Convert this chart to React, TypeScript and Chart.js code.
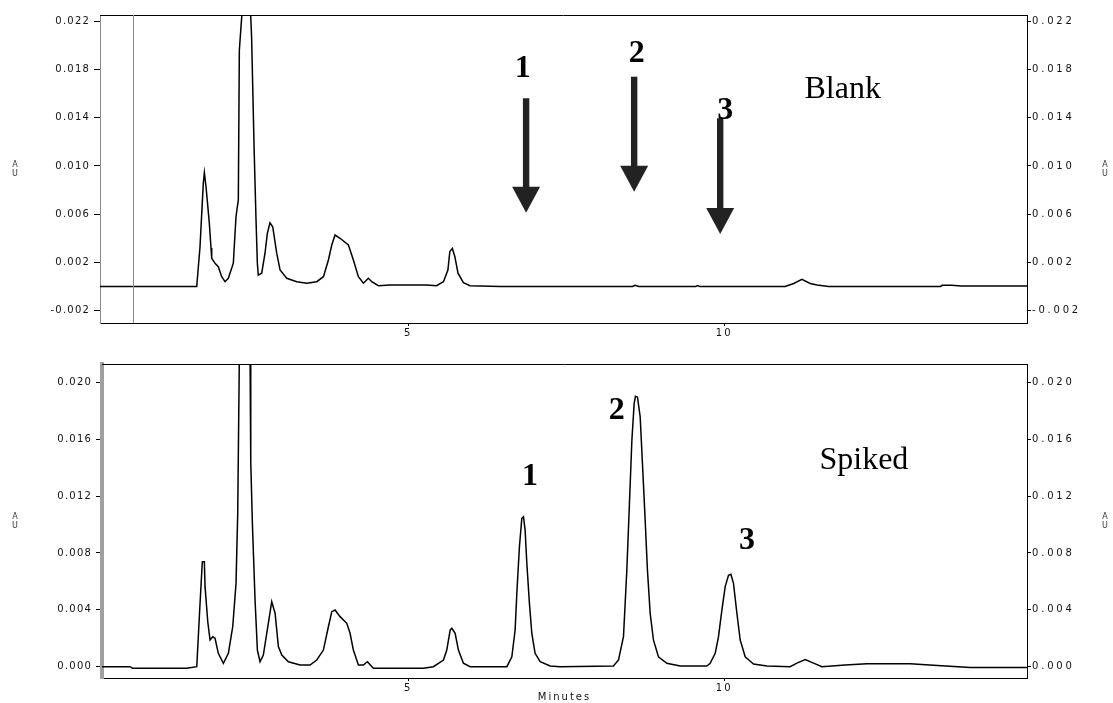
import React, { useEffect, useRef } from 'react';
import { Chart, registerables } from 'chart.js';

Chart.register(...registerables);

// ---------- Data (minutes, AU) ----------
const blankTimes = [
  0.127, 1.657, 1.709, 1.761, 1.778, 1.804, 1.856, 1.883, 1.894, 1.946, 1.998, 2.052, 2.104, 2.157,
  2.236, 2.278, 2.315, 2.331, 2.369, 2.42, 2.49, 2.525, 2.566, 2.595, 2.616, 2.631, 2.685, 2.737,
  2.774, 2.816, 2.859, 2.922, 2.975, 3.081, 3.239, 3.397, 3.555, 3.661, 3.74, 3.793, 3.845, 3.924,
  4.056, 4.135, 4.214, 4.293, 4.372, 4.426, 4.53, 4.715, 5.29, 5.45, 5.56, 5.63, 5.66, 5.7, 5.74,
  5.79, 5.875, 5.98, 6.46, 8.55, 8.59, 8.65, 9.55, 9.58, 9.61, 10.965, 11.1, 11.23, 11.36, 11.47,
  11.65, 13.42, 13.45, 13.6, 13.75, 13.92, 14.79,
];
const blankValues = [
  0, 0, 0.0033, 0.00856, 0.00944, 0.00828, 0.00527, 0.0032, 0.00234, 0.00193, 0.00164, 0.00081, 0.0004, 0.00068,
  0.00193, 0.00579, 0.00718, 0.0196, 0.0224, 0.032, 0.025, 0.0207, 0.01119, 0.00552, 0.00193, 0.00095, 0.0011, 0.00276,
  0.00441, 0.00529, 0.00496, 0.00276, 0.00137, 0.00068, 0.0004, 0.00027, 0.0004, 0.00081, 0.0022, 0.00344, 0.00427, 0.004,
  0.00344, 0.0022, 0.00081, 0.00027, 0.00068, 0.0004, 0.00007, 0.00012, 0.00012, 0.00007, 0.0004, 0.00137, 0.00289, 0.00317, 0.00247,
  0.0011, 0.00032, 0.00007, 0, 0, 0.0001, 0, 0, 0.00008, 0, 0, 0.00025, 0.0006, 0.00025, 0.00012,
  0, 0, 0.0001, 0.0001, 0.00005, 0.00005, 0.00005,
];

const spikedTimes = [
  0.158, 0.6, 0.64, 1.498, 1.657, 1.709, 1.745, 1.777, 1.788, 1.831, 1.867, 1.91, 1.946, 1.998, 2.078,
  2.157, 2.226, 2.278, 2.305, 2.331, 2.42, 2.5, 2.511, 2.536, 2.579, 2.616, 2.658, 2.71, 2.764, 2.843,
  2.896, 2.948, 3.002, 3.106, 3.291, 3.449, 3.555, 3.66, 3.739, 3.793, 3.845, 3.924, 4.03, 4.082, 4.134,
  4.214, 4.293, 4.356, 4.451, 4.98, 5.242, 5.4, 5.559, 5.612, 5.665, 5.691, 5.744, 5.796, 5.875, 5.981,
  6.562, 6.641, 6.693, 6.72, 6.761, 6.799, 6.825, 6.851, 6.878, 6.919, 6.957, 7.009, 7.089, 7.247, 7.405,
  8.248, 8.328, 8.407, 8.46, 8.497, 8.54, 8.576, 8.597, 8.628, 8.671, 8.707, 8.75, 8.786, 8.829, 8.881,
  8.96, 9.093, 9.304, 9.726, 9.778, 9.858, 9.91, 9.964, 10.016, 10.068, 10.106, 10.147, 10.201, 10.253,
  10.332, 10.464, 10.676, 11.044, 11.15, 11.282, 11.413, 11.546, 11.915, 12.258, 12.943, 13.312, 13.892, 14.794,
];
const spikedValues = [
  0, 0, -0.00011, -0.00011, 0, 0.00446, 0.00738, 0.00738, 0.00563, 0.00316, 0.00188, 0.00211, 0.002, 0.00094, 0.00024,
  0.00094, 0.00281, 0.00586, 0.01079, 0.022, 0.032, 0.022, 0.01442, 0.0102, 0.00469, 0.00117, 0.00035, 0.00082, 0.00235, 0.00457,
  0.00376, 0.00141, 0.00082, 0.00035, 0.00012, 0.00012, 0.00047, 0.00117, 0.00281, 0.00387, 0.00399, 0.00352, 0.00305, 0.00235, 0.00117,
  0.00012, 0.00012, 0.00035, -0.00011, -0.00011, -0.00011, 0, 0.00047, 0.00117, 0.00258, 0.0027, 0.00235, 0.00117, 0.00024, 0,
  0, 0.0007, 0.00258, 0.00516, 0.00844, 0.01044, 0.01055, 0.00961, 0.00727, 0.00446, 0.00235, 0.00094, 0.00035, 0.00005, 0,
  0.00005, 0.00047, 0.00211, 0.0068, 0.011, 0.01594, 0.01852, 0.01902, 0.01897, 0.01758, 0.01429, 0.0103, 0.0068, 0.00376, 0.00188,
  0.0007, 0.00024, 0.00005, 0.00005, 0.00024, 0.00094, 0.00211, 0.00399, 0.00563, 0.00643, 0.0065, 0.00586, 0.00376, 0.00188,
  0.0007, 0.00019, 0.00005, 0, 0.00025, 0.0005, 0.00025, 0, 0.00012, 0.0002, 0.0002, 0.0001, -0.00005, -0.00005,
];

const topTicks = [-0.002, 0.002, 0.006, 0.01, 0.014, 0.018, 0.022];
const bottomTicks = [0, 0.004, 0.008, 0.012, 0.016, 0.02];
const xTicks = [5, 10];

const peakNames = ['1', '2', '3'];
const blankArrowTimes = [6.867, 8.576, 9.937];
const blankArrowTops = [0.01562, 0.01741, 0.01396];
const blankArrowTips = [0.00612, 0.00787, 0.00436];
const blankLabelTimes = [6.815, 8.619, 10.016];
const blankLabelValues = [0.01741, 0.01861, 0.01388];
const spikedLabelTimes = [6.93, 8.3, 10.36];
const spikedLabelValues = [0.01278, 0.0174, 0.00826];

// ---------- helpers ----------
function patchSpacing(scale: any, spacing: string) {
  if (scale.__patched) return;
  scale.__patched = true;
  const origLabels = scale.drawLabels;
  scale.drawLabels = function (area: any) {
    const ctx = this.ctx;
    const prev = ctx.letterSpacing;
    ctx.letterSpacing = spacing;
    origLabels.call(this, area);
    ctx.letterSpacing = prev || '0px';
  };
  const origTitle = scale.drawTitle;
  scale.drawTitle = function () {
    const ctx = this.ctx;
    const prev = ctx.letterSpacing;
    ctx.letterSpacing = spacing;
    origTitle.call(this);
    ctx.letterSpacing = prev || '0px';
  };
}

type Props = {
  top: number;
  height: number;
  times: number[];
  values: number[];
  yMin: number;
  yMax: number;
  yTicks: number[];
  xMin: number;
  xMax: number;
  leftWidth: number;
  padTop: number;
  xHeight: number;
  showTitle: boolean;
  borderColor: string;
  borderWidth: number;
  markerLine?: number;
  arrows?: { t: number[]; top: number[]; tip: number[] };
  labels: { t: number[]; v: number[] };
  name: { text: string; t: number; v: number };
};

const tickFont = { family: '"DejaVu Sans"', size: 10 };

function Chromatogram(p: Props) {
  const ref = useRef<HTMLCanvasElement | null>(null);
  useEffect(() => {
    if (!ref.current) return;
    const annotate = {
      id: 'annotate',
      afterDatasetsDraw(chart: any) {
        const { ctx, chartArea, scales } = chart;
        const xs = scales.x;
        const ys = scales.y;
        ctx.save();
        ctx.letterSpacing = '0px';
        // top frame line
        ctx.strokeStyle = '#000';
        ctx.lineWidth = 1;
        ctx.beginPath();
        ctx.moveTo(chartArea.left, Math.round(chartArea.top) + 0.5);
        ctx.lineTo(chartArea.right, Math.round(chartArea.top) + 0.5);
        ctx.stroke();
        if (p.markerLine != null) {
          const mx = Math.round(xs.getPixelForValue(p.markerLine)) + 0.5;
          ctx.strokeStyle = '#8a8a8a';
          ctx.beginPath();
          ctx.moveTo(mx, chartArea.top);
          ctx.lineTo(mx, chartArea.bottom);
          ctx.stroke();
        }
        // arrows
        if (p.arrows) {
          ctx.fillStyle = '#222';
          const headLen = 26;
          const headHalf = 14;
          const shaftHalf = 3.2;
          p.arrows.t.forEach((t, i) => {
            const x = xs.getPixelForValue(t);
            const y0 = ys.getPixelForValue(p.arrows!.top[i]);
            const y1 = ys.getPixelForValue(p.arrows!.tip[i]);
            ctx.fillRect(x - shaftHalf, y0, shaftHalf * 2, y1 - headLen - y0 + 1);
            ctx.beginPath();
            ctx.moveTo(x - headHalf, y1 - headLen);
            ctx.lineTo(x + headHalf, y1 - headLen);
            ctx.lineTo(x, y1);
            ctx.closePath();
            ctx.fill();
          });
        }
        // peak numbers
        ctx.fillStyle = '#000';
        ctx.textAlign = 'center';
        ctx.textBaseline = 'alphabetic';
        ctx.font = 'bold 32px "Liberation Serif"';
        p.labels.t.forEach((t, i) => {
          ctx.fillText(peakNames[i], xs.getPixelForValue(t), ys.getPixelForValue(p.labels.v[i]));
        });
        ctx.font = '32px "Liberation Serif"';
        ctx.fillText(p.name.text, xs.getPixelForValue(p.name.t), ys.getPixelForValue(p.name.v));
        // AU unit labels
        ctx.font = '8px "DejaVu Sans"';
        ctx.fillStyle = '#333';
        ctx.textBaseline = 'middle';
        const cy = (chartArea.top + chartArea.bottom) / 2;
        [15, chart.width - 8].forEach((x: number) => {
          ctx.fillText('A', x, cy - 4);
          ctx.fillText('U', x, cy + 4.5);
        });
        ctx.restore();
      },
    };

    const yTickBuilder = (s: any) => {
      s.ticks = p.yTicks.map((v) => ({ value: v }));
    };
    const yCallback = (v: any) => Number(v).toFixed(3);

    const chart = new Chart(ref.current, {
      type: 'line',
      data: {
        datasets: [
          {
            data: p.times.map((t, i) => ({ x: t, y: p.values[i] })),
            borderColor: '#000',
            borderWidth: 1.5,
            pointRadius: 0,
            tension: 0,
            fill: false,
          },
        ],
      },
      options: {
        animation: false,
        responsive: false,
        events: [],
        layout: { padding: { top: p.padTop, left: 0, right: 0, bottom: 0 } },
        plugins: { legend: { display: false }, tooltip: { enabled: false } },
        scales: {
          x: {
            type: 'linear',
            position: 'bottom',
            min: p.xMin,
            max: p.xMax,
            afterBuildTicks: (s: any) => {
              s.ticks = xTicks.map((v) => ({ value: v }));
            },
            afterFit: (s: any) => {
              s.height = p.xHeight;
              s.paddingLeft = 0;
              s.paddingRight = 0;
              patchSpacing(s, '2px');
            },
            grid: { display: true, drawOnChartArea: false, drawTicks: true, tickLength: 3, color: '#000' },
            border: { display: true, color: '#000', width: 1 },
            ticks: {
              font: tickFont,
              color: '#111',
              padding: 1,
              maxRotation: 0,
              autoSkip: false,
              callback: (v: any) => String(v),
            },
            title: {
              display: p.showTitle,
              text: 'Minutes',
              font: { family: '"DejaVu Sans"', size: 10 },
              color: '#111',
              padding: 0,
            },
          },
          y: {
            type: 'linear',
            position: 'left',
            min: p.yMin,
            max: p.yMax,
            afterBuildTicks: yTickBuilder,
            afterFit: (s: any) => {
              s.width = p.leftWidth;
              s.paddingTop = 0;
              s.paddingBottom = 0;
              patchSpacing(s, '1.2px');
            },
            grid: { display: true, drawOnChartArea: false, drawTicks: true, tickLength: 6, color: '#000' },
            border: { display: true, color: p.borderColor, width: p.borderWidth },
            ticks: { font: tickFont, color: '#111', padding: 4, autoSkip: false, callback: yCallback },
          },
          y2: {
            type: 'linear',
            axis: 'y',
            position: 'right',
            min: p.yMin,
            max: p.yMax,
            afterBuildTicks: yTickBuilder,
            afterFit: (s: any) => {
              s.width = 86;
              s.paddingTop = 0;
              s.paddingBottom = 0;
              patchSpacing(s, '2.8px');
            },
            grid: { display: true, drawOnChartArea: false, drawTicks: true, tickLength: 4, color: '#000' },
            border: { display: true, color: '#000', width: 1 },
            ticks: { font: tickFont, color: '#111', padding: 1, autoSkip: false, callback: yCallback },
          },
        },
      } as any,
      plugins: [annotate],
    } as any);
    return () => chart.destroy();
  }, []);
  return (
    <canvas
      ref={ref}
      width={1113}
      height={p.height}
      style={{ position: 'absolute', left: 0, top: p.top, width: 1113, height: p.height, display: 'block' }}
    />
  );
}

export default function App() {
  return (
    <div style={{ position: 'fixed', left: 0, top: 0, width: 1113, height: 703, background: '#fff', overflow: 'hidden' }}>
      <Chromatogram
        top={0}
        height={345}
        times={blankTimes}
        values={blankValues}
        yMin={-0.00303}
        yMax={0.02253}
        yTicks={topTicks}
        xMin={0.127}
        xMax={14.79}
        leftWidth={100}
        padTop={15}
        xHeight={22}
        showTitle={false}
        borderColor="#8a8a8a"
        borderWidth={1}
        markerLine={0.649}
        arrows={{ t: blankArrowTimes, top: blankArrowTops, tip: blankArrowTips }}
        labels={{ t: blankLabelTimes, v: blankLabelValues }}
        name={{ text: 'Blank', t: 11.875, v: 0.01562 }}
      />
      <Chromatogram
        top={345}
        height={358}
        times={spikedTimes}
        values={spikedValues}
        yMin={-0.000795}
        yMax={0.02129}
        yTicks={bottomTicks}
        xMin={0.158}
        xMax={14.79}
        leftWidth={102}
        padTop={19}
        xHeight={25}
        showTitle={true}
        borderColor="#a0a0a0"
        borderWidth={4}
        labels={{ t: spikedLabelTimes, v: spikedLabelValues }}
        name={{ text: 'Spiked', t: 12.21, v: 0.01388 }}
      />
    </div>
  );
}
